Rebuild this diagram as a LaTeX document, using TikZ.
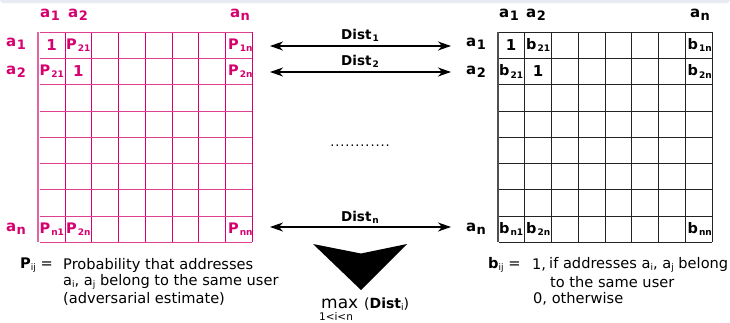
\documentclass[tikz,border=0pt]{standalone}
\usepackage{fontspec}
\setmainfont{DejaVu Sans}
\usetikzlibrary{arrows.meta}
\definecolor{pk}{RGB}{214,0,110}
\definecolor{pkl}{RGB}{228,100,160}
\definecolor{barg}{RGB}{232,235,241}
\definecolor{gl}{RGB}{35,35,35}
\newcommand{\alab}[1]{a\kern0.5pt\raisebox{-3pt}{\fontsize{13}{13}\selectfont #1}}
\newcommand{\csub}[2]{#1\kern1pt\raisebox{-2.2pt}{\fontsize{9}{9}\selectfont #2}}
\newcommand{\tsub}[2]{#1\raisebox{-2.2pt}{\fontsize{9}{9}\selectfont\mdseries #2}}
\begin{document}
\begin{tikzpicture}[x=1pt,y=-1pt,
  lbl/.style={inner sep=0pt, font=\fontsize{15}{17}\selectfont\bfseries},
  cell/.style={inner sep=0pt, anchor=west, font=\fontsize{14.5}{17}\selectfont\bfseries},
  txt/.style={inner sep=0pt, anchor=west, font=\fontsize{14.6}{17}\selectfont},
  dd/.style={{Stealth[length=13pt,width=9pt,inset=4pt]}-{Stealth[length=13pt,width=9pt,inset=4pt]}, line width=1.3pt}]
\useasboundingbox (0,0) rectangle (730,322);
\fill[barg, rounded corners=3pt] (0,-8) rectangle (730,3);
% left grid
\foreach \k in {1,...,7} \draw[pk, line width=0.9pt] ({38.3+\k*26.75},32.3) -- ({38.3+\k*26.75},242.3);
\foreach \k in {0,...,8} \draw[pk!75, line width=0.9pt] (39.5,{32.3+\k*26.25}) -- (251.5,{32.3+\k*26.25});
\draw[pkl, line width=2pt] (37.6,32.3) -- (37.6,242.3);
\draw[pk, line width=0.9pt] (252.4,32.3) -- (252.4,242.3);
% right grid
\foreach \k in {1,...,7} \draw[gl, line width=0.9pt] ({497.7+\k*26.83},32.3) -- ({497.7+\k*26.83},242.3);
\foreach \k in {0,...,8} \draw[gl, line width=0.9pt] (499,{32.3+\k*26.25}) -- (711.5,{32.3+\k*26.25});
\draw[gl!80, line width=2pt] (497.5,32.3) -- (497.5,242.3);
\draw[gl, line width=0.9pt] (712.4,32.3) -- (712.4,242.3);
% left labels
\begin{scope}[every node/.append style={text=pk}]
\node[lbl] (lc1) at (50,15) {\alab{1}};
\node[lbl] (lc2) at (78,15) {\alab{2}};
\node[lbl] (lcn) at (240,15) {\alab{n}};
\node[lbl] (lr1) at (16,44) {\alab{1}};
\node[lbl] (lr2) at (16,72) {\alab{2}};
\node[lbl] (lrn) at (16,229) {\alab{n}};
\node[lbl] (l11) at (51.6,45) {1};
\node[cell] (l12) at (66,45) {\csub{P}{21}};
\node[cell] (l1n) at (228,45) {\csub{P}{1n}};
\node[cell] (l21) at (39.5,71.5) {\csub{P}{21}};
\node[lbl] (l22) at (78.4,71.5) {1};
\node[cell] (l2n) at (228,71.5) {\csub{P}{2n}};
\node[cell] (ln1) at (39.5,229) {\csub{P}{n1}};
\node[cell] (ln2) at (66,229) {\csub{P}{2n}};
\node[cell] (lnn) at (228,229) {\csub{P}{nn}};
\end{scope}
% right labels
\node[lbl] (rc1) at (509,15) {\alab{1}};
\node[lbl] (rc2) at (536,15) {\alab{2}};
\node[lbl] (rcn) at (700,15) {\alab{n}};
\node[lbl] (rr1) at (476,44) {\alab{1}};
\node[lbl] (rr2) at (476,72) {\alab{2}};
\node[lbl] (rrn) at (476,229) {\alab{n}};
\node[lbl] (r11) at (511,45) {1};
\node[cell] (r12) at (526,45) {\csub{b}{21}};
\node[cell] (r1n) at (687.5,45) {\csub{b}{1n}};
\node[cell] (r21) at (499,71.5) {\csub{b}{21}};
\node[lbl] (r22) at (538,71.5) {1};
\node[cell] (r2n) at (687.5,71.5) {\csub{b}{2n}};
\node[cell] (rn1) at (499,229) {\csub{b}{n1}};
\node[cell] (rn2) at (526,229) {\csub{b}{2n}};
\node[cell] (rnn) at (687.5,229) {\csub{b}{nn}};
% arrows
\coordinate (d1l) at (270,46); \coordinate (d1r) at (451,46);
\coordinate (d2l) at (270,72); \coordinate (d2r) at (451,72);
\coordinate (dnl) at (270,227); \coordinate (dnr) at (451,227);
\draw[dd] (d1l) -- (d1r);
\draw[dd] (d2l) -- (d2r);
\draw[dd] (dnl) -- (dnr);
\node[lbl, font=\fontsize{13.5}{15}\selectfont\bfseries] (dist1) at (360,35) {\csub{Dist}{1}};
\node[lbl, font=\fontsize{13.5}{15}\selectfont\bfseries] (dist2) at (360,61) {\csub{Dist}{2}};
\node[lbl, font=\fontsize{13.5}{15}\selectfont\bfseries] (distn) at (360,217) {\csub{Dist}{n}};
\node[inner sep=0pt, anchor=base, font=\fontsize{13}{15}\selectfont] (dots) at (360,146) {.\kern0.9pt.\kern0.9pt.\kern0.9pt.\kern0.9pt.\kern0.9pt.\kern0.9pt.\kern0.9pt.\kern0.9pt.\kern0.9pt.\kern0.9pt.\kern0.9pt.};
% big arrow
\fill[black] (313,244) -- (361,253.5) -- (407,244) -- (361,290) -- cycle;
\node[inner sep=0pt, anchor=base west, font=\fontsize{17}{19}\selectfont] (max) at (321,308.5) {max};
\node[inner sep=0pt, anchor=base west, font=\fontsize{14}{16}\selectfont] (arg) at (364,308.5) {(\textbf{\tsub{Dist}{i}})};
\node[inner sep=0pt, anchor=base, font=\fontsize{10.5}{12}\selectfont] (rng) at (336,320) {1<i<n};
% bottom texts
\node[txt] (peq) at (20,265) {\tsub{\textbf{P}}{ij} =};
\node[txt] (pt1) at (63,265) {Probability that addresses};
\node[txt] (pt2) at (63,282) {\tsub{a}{i}, \tsub{a}{j} belong to the same user};
\node[txt] (pt3) at (63,299) {(adversarial estimate)};
\node[txt] (beq) at (488,265) {\tsub{\textbf{b}}{ij} =};
\node[txt] (bt0) at (532,265) {1,};
\node[txt] (bt1) at (549,265) {if addresses \tsub{a}{i}, \tsub{a}{j} belong};
\node[txt] (bt2) at (550,282) {to the same user};
\node[txt] (bt3) at (533,299) {0, otherwise};
\end{tikzpicture}
\end{document}
